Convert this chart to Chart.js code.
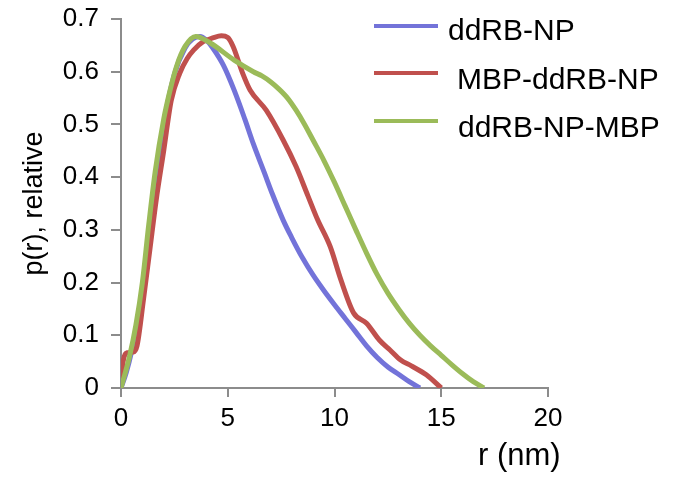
<!DOCTYPE html>
<html>
<head>
<meta charset="utf-8">
<style>
  html, body { margin: 0; padding: 0; background: #fff; }
  #wrap { width: 685px; height: 477px; position: relative; }
</style>
<script src="https://cdn.jsdelivr.net/npm/chart.js@4.4.1/dist/chart.umd.min.js"></script>
</head>
<body>
<div id="wrap"><canvas id="c" width="685" height="477"></canvas></div>
<script>
// ---- data ----
const seriesNames = ['ddRB-NP', 'MBP-ddRB-NP', 'ddRB-NP-MBP'];

const blueR = [0, 0.25, 0.5, 0.75, 1.0, 1.5, 2.0, 2.5, 3.0, 3.35, 3.7, 4.0, 4.3, 4.8, 5.3, 5.8, 6.2, 6.7, 7.1, 7.6, 8.0, 8.5, 9.0, 9.5, 10.0, 10.5, 11.0, 11.5, 12.0, 12.5, 13.0, 13.5, 14.0];
const blueP = [0, 0.03, 0.07, 0.12, 0.18, 0.36, 0.5, 0.595, 0.645, 0.662, 0.667, 0.66, 0.645, 0.612, 0.565, 0.51, 0.463, 0.41, 0.367, 0.318, 0.285, 0.247, 0.214, 0.185, 0.158, 0.132, 0.106, 0.08, 0.058, 0.04, 0.026, 0.012, 0];

const redR = [0, 0.1, 0.3, 0.55, 0.75, 1.05, 1.35, 1.65, 2.0, 2.35, 2.75, 3.1, 3.4, 3.85, 4.3, 4.7, 5.0, 5.25, 5.7, 6.05, 6.8, 7.6, 8.2, 8.75, 9.2, 9.8, 10.3, 10.9, 11.5, 12.1, 12.6, 13.1, 13.6, 14.3, 15.0];
const redP = [0, 0.05, 0.067, 0.068, 0.08, 0.167, 0.262, 0.357, 0.45, 0.545, 0.597, 0.625, 0.641, 0.657, 0.664, 0.668, 0.665, 0.648, 0.597, 0.565, 0.527, 0.47, 0.42, 0.365, 0.32, 0.268, 0.205, 0.142, 0.123, 0.091, 0.072, 0.053, 0.042, 0.025, 0];

const greenR = [0, 0.4, 0.7, 1.0, 1.3, 1.6, 2.0, 2.3, 2.6, 3.0, 3.5, 4.2, 5.3, 6.2, 6.6, 7.0, 7.4, 7.8, 8.2, 8.6, 9.0, 9.5, 10.0, 10.5, 11.0, 11.5, 12.0, 12.5, 13.0, 13.5, 14.0, 14.5, 15.0, 15.5, 16.0, 16.5, 17.0];
const greenP = [0, 0.06, 0.12, 0.2, 0.31, 0.41, 0.51, 0.565, 0.61, 0.648, 0.667, 0.654, 0.622, 0.6, 0.592, 0.581, 0.567, 0.55, 0.527, 0.5, 0.47, 0.432, 0.39, 0.345, 0.3, 0.256, 0.215, 0.18, 0.15, 0.123, 0.1, 0.08, 0.062, 0.044, 0.027, 0.012, 0];

const xTickLabels = ['0', '5', '10', '15', '20'];
const yTickLabels = ['0', '0.1', '0.2', '0.3', '0.4', '0.5', '0.6', '0.7'];
const xTitle = 'r (nm)';
const yTitle = 'p(r), relative';

// ---- build ----
const FONT = '"Liberation Sans", Arial, sans-serif';
const colors = ['#7373d9', '#c0504d', '#9bbb59'];
const drawOrder = [2, 1, 0]; // green on top, then red, then blue
const zip = (xs, ys) => xs.map((x, i) => ({ x: x, y: ys[i] }));
const seriesData = [zip(blueR, blueP), zip(redR, redP), zip(greenR, greenP)];

const legendPlugin = {
  id: 'customLegend',
  afterDraw(chart) {
    const ctx = chart.ctx;
    const rows = [
      { lineY: 26, textX: 448, baseY: 40 },
      { lineY: 73, textX: 457, baseY: 89 },
      { lineY: 121, textX: 458, baseY: 137 }
    ];
    ctx.save();
    chart.data.datasets.forEach((ds, i) => {
      const r = rows[i];
      ctx.strokeStyle = ds.borderColor;
      ctx.lineWidth = 4;
      ctx.beginPath();
      ctx.moveTo(374, r.lineY);
      ctx.lineTo(438, r.lineY);
      ctx.stroke();
      ctx.fillStyle = '#000';
      ctx.font = '30px ' + FONT;
      ctx.textAlign = 'left';
      ctx.textBaseline = 'alphabetic';
      ctx.fillText(ds.label, r.textX, r.baseY);
    });
    // x axis title
    ctx.font = '31px ' + FONT;
    ctx.fillText(xTitle, 478, 465);
    ctx.restore();
  }
};

new Chart(document.getElementById('c'), {
  type: 'line',
  data: {
    datasets: seriesData.map((d, i) => ({
      label: seriesNames[i],
      data: d,
      order: drawOrder[i],
      borderColor: colors[i],
      backgroundColor: colors[i],
      borderWidth: 5,
      pointRadius: 0,
      fill: false,
      cubicInterpolationMode: 'monotone'
    }))
  },
  options: {
    responsive: false,
    animation: false,
    layout: { padding: { left: 0, top: 19, right: 137, bottom: 0 } },
    plugins: { legend: { display: false }, tooltip: { enabled: false } },
    scales: {
      x: {
        type: 'linear',
        min: 0, max: 20,
        ticks: {
          stepSize: 5,
          font: { size: 26, family: FONT },
          color: '#000',
          padding: 6,
          maxRotation: 0,
          callback: (v, i) => xTickLabels[i]
        },
        grid: { drawOnChartArea: false, drawTicks: true, tickLength: 9, color: '#8c8c8c', lineWidth: 2 },
        border: { color: '#8c8c8c', width: 2 },
        afterFit(s) { s.height = 89; }
      },
      y: {
        type: 'linear',
        min: 0, max: 0.7,
        ticks: {
          stepSize: 0.1,
          font: { size: 26, family: FONT },
          color: '#000',
          padding: 12,
          callback: (v, i) => yTickLabels[i]
        },
        grid: { drawOnChartArea: false, drawTicks: true, tickLength: 10, color: '#8c8c8c', lineWidth: 2 },
        border: { color: '#8c8c8c', width: 2 },
        title: {
          display: true,
          text: yTitle,
          font: { size: 27, family: FONT },
          color: '#000',
          padding: { top: 18, bottom: 0 }
        },
        afterFit(s) { s.width = 121; s.paddingTop = 0; s.paddingBottom = 0; }
      }
    }
  },
  plugins: [legendPlugin]
});
</script>
</body>
</html>
